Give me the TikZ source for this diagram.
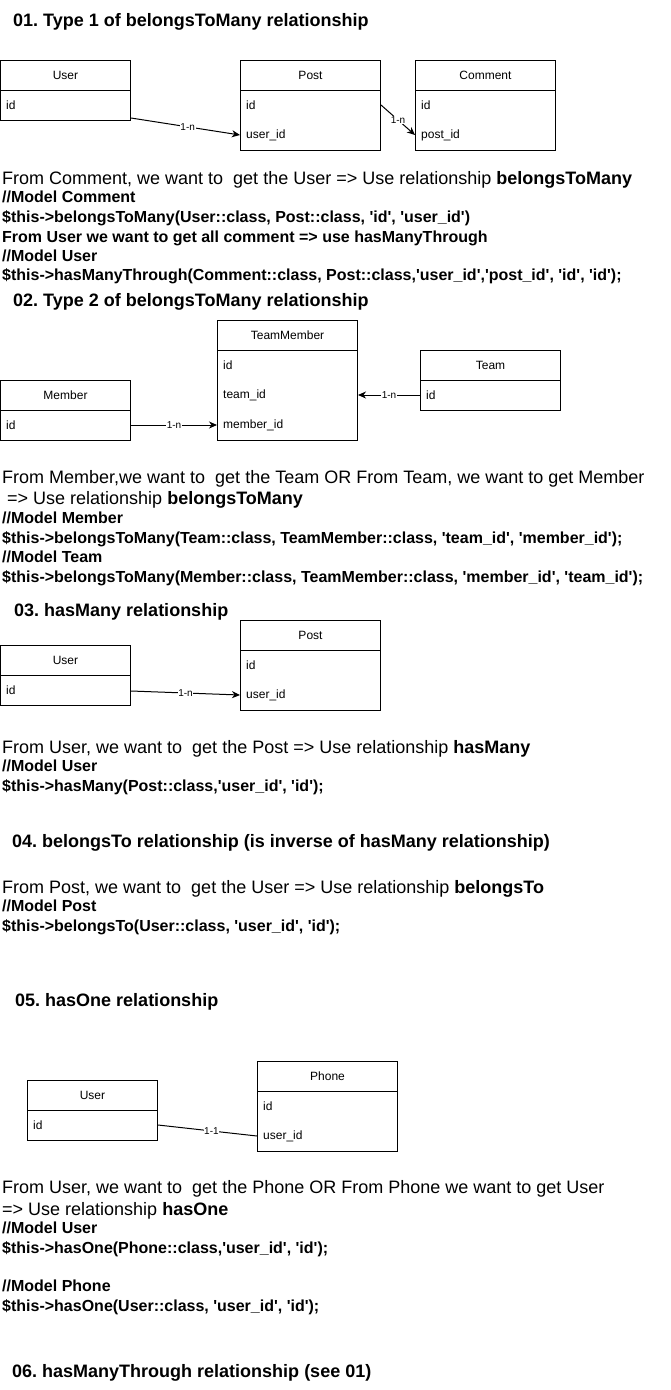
\documentclass[tikz,border=0pt]{standalone}
\usepackage{fontspec}
\setmainfont{Liberation Sans}[Ligatures=TeXOff]
\usetikzlibrary{arrows.meta,calc}
\frenchspacing
\newcommand\fsbody{\fontsize{18}{21}\selectfont}
\newcommand\fscode{\bfseries\fontsize{16}{19}\selectfont}
\newcommand\fstitle{\bfseries\fontsize{18}{21}\selectfont}
\newcommand\erbox[6]{%
  \node[entbox, minimum width=#4, minimum height=#5] (#1) at (#2,#3) {};
  \draw[ln] ($(#1.north west)+(0,30)$) -- ($(#1.north east)+(0,30)$);
  \node[hd] (#1-t) at ($(#1.north)+(0,15)$) {#6};
}
\tikzset{
  ln/.style={line width=1pt},
  entbox/.style={draw, line width=1pt, inner sep=0pt, anchor=north west},
  hd/.style={font=\fontsize{12}{14}\selectfont, inner sep=0pt},
  fd/.style={font=\fontsize{12}{14}\selectfont, inner sep=0pt, anchor=west},
  rel/.style={line width=1pt, -{Stealth[length=8pt,width=7pt,inset=2.5pt]}},
  plain/.style={line width=1pt},
  card/.style={font=\fontsize{10}{12}\selectfont, fill=white, inner sep=0.6pt},
  ttl/.style={font=\fstitle, anchor=base west, inner sep=0pt},
  txt/.style={font=\fsbody, anchor=base west, inner sep=0pt},
  code/.style={font=\fscode, anchor=base west, inner sep=0pt}
}
\begin{document}
\begin{tikzpicture}[x=1pt,y=-1pt]
\fill[white] (0,0) rectangle (671,1390);
\useasboundingbox (0,0) rectangle (671,1390);

% ---------- 01 ----------
\node[ttl] (s1) at (13,26.5) {01. Type 1 of belongsToMany relationship};
\erbox{u1}{0}{60}{130}{60}{User}
\node[fd] (u1-id) at ($(u1.north west)+(6,45)$) {id};
\erbox{p1}{240}{60}{140}{90}{Post}
\node[fd] (p1-id) at ($(p1.north west)+(6,45)$) {id};
\node[fd] (p1-uid) at ($(p1.north west)+(6,75)$) {user\_id};
\erbox{c1}{415}{60}{140}{90}{Comment}
\node[fd] (c1-id) at ($(c1.north west)+(6,45)$) {id};
\node[fd] (c1-pid) at ($(c1.north west)+(6,75)$) {post\_id};
\draw[rel] ($(u1.south east)+(0,-3)$) -- node[card, pos=0.52] {1-n} ($(p1.north west)+(0,75)$);
\draw[rel] ($(p1.north east)+(0,45)$) -- node[card, pos=0.5] {1-n} ($(c1.north west)+(0,75)$);

\node[txt] (t1a) at (2,184.5) {From Comment, we want to\ \ get the User => Use relationship \textbf{belongsToMany}};
\node[code] (t1b) at (2,202) {//Model Comment};
\node[code] (t1c) at (2,222) {\$this->belongsToMany(User::class, Post::class, 'id', 'user\_id')};
\node[code] (t1d) at (2,242) {From User we want to get all comment => use hasManyThrough};
\node[code] (t1e) at (2,261) {//Model User};
\node[code] (t1f) at (2,280) {\$this->hasManyThrough(Comment::class, Post::class,'user\_id','post\_id', 'id', 'id');};

% ---------- 02 ----------
\node[ttl] (s2) at (13,306.5) {02. Type 2 of belongsToMany relationship};
\erbox{tm}{217}{320}{140}{120}{TeamMember}
\node[fd] (tm-id) at ($(tm.north west)+(6,45)$) {id};
\node[fd] (tm-tid) at ($(tm.north west)+(6,75)$) {team\_id};
\node[fd] (tm-mid) at ($(tm.north west)+(6,105)$) {member\_id};
\erbox{tmt}{420}{350}{140}{60}{Team}
\node[fd] (tmt-id) at ($(tmt.north west)+(6,45)$) {id};
\erbox{mb}{0}{380}{130}{60}{Member}
\node[fd] (mb-id) at ($(mb.north west)+(6,45)$) {id};
\draw[rel] ($(mb.north east)+(0,45)$) -- node[card] {1-n} ($(tm.north west)+(0,105)$);
\draw[rel] ($(tmt.north west)+(0,45)$) -- node[card] {1-n} ($(tm.north east)+(0,75)$);

\node[txt] (t2a) at (2,483.5) {From Member,we want to\ \ get the Team OR From Team, we want to get Member};
\node[txt] (t2b) at (2,504.5) {\ => Use relationship \textbf{belongsToMany}};
\node[code] (t2c) at (2,523) {//Model Member};
\node[code] (t2d) at (2,543) {\$this->belongsToMany(Team::class, TeamMember::class, 'team\_id', 'member\_id');};
\node[code] (t2e) at (2,562) {//Model Team};
\node[code] (t2f) at (2,582) {\$this->belongsToMany(Member::class, TeamMember::class, 'member\_id', 'team\_id');};

% ---------- 03 ----------
\node[ttl] (s3) at (14,616.5) {03. hasMany relationship};
\erbox{u3}{0}{645}{130}{60}{User}
\node[fd] (u3-id) at ($(u3.north west)+(6,45)$) {id};
\erbox{p3}{240}{620}{140}{90}{Post}
\node[fd] (p3-id) at ($(p3.north west)+(6,45)$) {id};
\node[fd] (p3-uid) at ($(p3.north west)+(6,75)$) {user\_id};
\draw[rel] ($(u3.north east)+(0,46)$) -- node[card] {1-n} ($(p3.north west)+(0,75)$);

\node[txt] (t3a) at (2,753.5) {From User, we want to\ \ get the Post => Use relationship \textbf{hasMany}};
\node[code] (t3b) at (2,771) {//Model User};
\node[code] (t3c) at (2,791) {\$this->hasMany(Post::class,'user\_id', 'id');};

% ---------- 04 ----------
\node[ttl] (s4) at (12,847.5) {04. belongsTo relationship (is inverse of hasMany relationship)};
\node[txt] (t4a) at (2,893.5) {From Post, we want to\ \ get the User => Use relationship \textbf{belongsTo}};
\node[code] (t4b) at (2,911) {//Model Post};
\node[code] (t4c) at (2,931) {\$this->belongsTo(User::class, 'user\_id', 'id');};

% ---------- 05 ----------
\node[ttl] (s5) at (15,1006.5) {05. hasOne relationship};
\erbox{u5}{27}{1080}{130}{60}{User}
\node[fd] (u5-id) at ($(u5.north west)+(6,45)$) {id};
\erbox{ph}{257}{1061}{140}{90}{Phone}
\node[fd] (ph-id) at ($(ph.north west)+(6,45)$) {id};
\node[fd] (ph-uid) at ($(ph.north west)+(6,75)$) {user\_id};
\draw[plain] ($(u5.north east)+(0,45)$) -- node[card, pos=0.54] {1-1} ($(ph.north west)+(0,75)$);

\node[txt] (t5a) at (2,1193.5) {From User, we want to\ \ get the Phone OR From Phone we want to get User};
\node[txt] (t5b) at (2,1215.5) {=> Use relationship \textbf{hasOne}};
\node[code] (t5c) at (2,1233) {//Model User};
\node[code] (t5d) at (2,1253) {\$this->hasOne(Phone::class,'user\_id', 'id');};
\node[code] (t5e) at (2,1291) {//Model Phone};
\node[code] (t5f) at (2,1311) {\$this->hasOne(User::class, 'user\_id', 'id');};

% ---------- 06 ----------
\node[ttl] (s6) at (12,1377.5) {06. hasManyThrough relationship (see 01)};
\end{tikzpicture}
\end{document}
